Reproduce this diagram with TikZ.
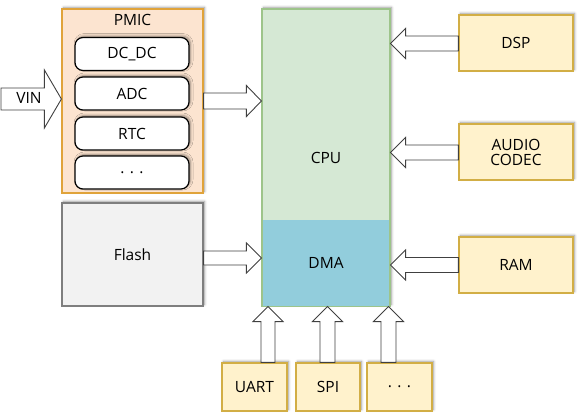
\documentclass[tikz,border=0pt]{standalone}
\usepackage{fontspec}
\setmainfont{Open Sans}
\usetikzlibrary{calc,shadows.blur}
\definecolor{pmicfill}{HTML}{FCE4D0}
\definecolor{pmicline}{HTML}{E0A33A}
\definecolor{yelfill}{HTML}{FFF2CC}
\definecolor{yelline}{HTML}{D2AE45}
\definecolor{cpufill}{HTML}{D5E8D4}
\definecolor{cpuline}{HTML}{9DC48A}
\definecolor{dmafill}{HTML}{92CDDC}
\definecolor{flashfill}{HTML}{F2F2F2}
\definecolor{flashline}{HTML}{7F7F7F}
\definecolor{arrline}{HTML}{404040}
\tikzset{
  shad/.style={blur shadow={shadow xshift=1.5pt, shadow yshift=1.5pt, shadow blur steps=6, shadow blur radius=2.5pt, shadow opacity=40}},
  box/.style={draw, line width=1.2pt, inner sep=0pt, align=center, font=\fontsize{15.5}{18}\selectfont},
  pmicbox/.style={box, shad, fill=pmicfill, draw=pmicline},
  subbox/.style={box, shad, fill=white, draw=black, rounded corners=8pt, minimum width=114, minimum height=33},
  yelbox/.style={box, shad, fill=yelfill, draw=yelline},
  cpubox/.style={box, shad, fill=cpufill, draw=cpuline},
  dmabox/.style={box, fill=dmafill, draw=none},
  flashbox/.style={box, shad, fill=flashfill, draw=flashline},
  barrow/.style={fill=white, draw=arrline, line width=0.9pt, line join=miter},
  lbl/.style={font=\fontsize{15.5}{18}\selectfont, inner sep=0pt}
}
% right-pointing block arrow: #1 start, #2 tip, #3 shaft half, #4 head half, #5 head length
\newcommand\rarr[5]{\draw[barrow] ($(#1)+(0,{-#3})$) -- ($(#2)+({-#5},{-#3})$) -- ($(#2)+({-#5},{-#4})$) -- (#2) -- ($(#2)+({-#5},{#4})$) -- ($(#2)+({-#5},{#3})$) -- ($(#1)+(0,{#3})$) -- cycle;}
\newcommand\larr[5]{\draw[barrow] ($(#1)+(0,{-#3})$) -- ($(#2)+({#5},{-#3})$) -- ($(#2)+({#5},{-#4})$) -- (#2) -- ($(#2)+({#5},{#4})$) -- ($(#2)+({#5},{#3})$) -- ($(#1)+(0,{#3})$) -- cycle;}
\newcommand\uarr[5]{\draw[barrow] ($(#1)+({-#3},0)$) -- ($(#2)+({-#3},{#5})$) -- ($(#2)+({-#4},{#5})$) -- (#2) -- ($(#2)+({#4},{#5})$) -- ($(#2)+({#3},{#5})$) -- ($(#1)+({#3},0)$) -- cycle;}
\begin{document}
\begin{tikzpicture}[x=1pt,y=-1pt]
\useasboundingbox (0,0) rectangle (583,415);
% PMIC
\node[pmicbox, minimum width=141, minimum height=184] (pmic) at (132.5,101) {};
\node[lbl] (pmict) at (132.5,20) {PMIC};
\node[subbox] (dcdc) at (132,54) {DC\_DC};
\node[subbox] (adc) at (132,93.5) {ADC};
\node[subbox] (rtc) at (132,133.5) {RTC};
\node[subbox] (pdots) at (132,172.5) {. . .};
% Flash
\node[flashbox, minimum width=141, minimum height=103] (flash) at (132.5,254.5) {Flash};
% CPU / DMA
\node[cpubox, minimum width=128, minimum height=297] (cpu) at (326,157.5) {CPU};
\node[dmabox, minimum width=126.8, minimum height=86] (dma) at (326,263) {DMA};
% right boxes
\node[yelbox, minimum width=114, minimum height=56] (dsp) at (516,43) {DSP};
\node[yelbox, minimum width=114, minimum height=56] (audio) at (516,152) {AUDIO\\[-3pt]CODEC};
\node[yelbox, minimum width=114, minimum height=56] (ram) at (516,265) {RAM};
% bottom boxes
\node[yelbox, minimum width=65, minimum height=48] (uart) at (254.5,387) {UART};
\node[yelbox, minimum width=64, minimum height=48] (spi) at (328,387) {SPI};
\node[yelbox, minimum width=65, minimum height=48] (bdots) at (399.5,387) {. . .};
% arrows
\coordinate (vin0) at (1,99);
\rarr{vin0}{pmic.west |- vin0}{11}{29}{17}
\node[lbl] (vin) at (29,98) {VIN};
\coordinate (y1) at (0,101);
\rarr{pmic.east |- y1}{cpu.west |- y1}{8}{15.5}{15}
\coordinate (y2) at (0,258);
\rarr{flash.east |- y2}{cpu.west |- y2}{7}{15}{15}
\coordinate (y3) at (0,43.5);
\larr{dsp.west |- y3}{cpu.east |- y3}{7.5}{15}{15}
\coordinate (y4) at (0,152.5);
\larr{audio.west |- y4}{cpu.east |- y4}{7.5}{15}{15}
\coordinate (y5) at (0,265);
\larr{ram.west |- y5}{cpu.east |- y5}{7.5}{15}{15}
\coordinate (x1) at (268,0);
\uarr{x1 |- uart.north}{x1 |- cpu.south}{7}{15}{15}
\coordinate (x2) at (327.5,0);
\uarr{x2 |- spi.north}{x2 |- cpu.south}{7.5}{15}{15}
\coordinate (x3) at (388.5,0);
\uarr{x3 |- bdots.north}{x3 |- cpu.south}{7.5}{15}{15}
\end{tikzpicture}
\end{document}
